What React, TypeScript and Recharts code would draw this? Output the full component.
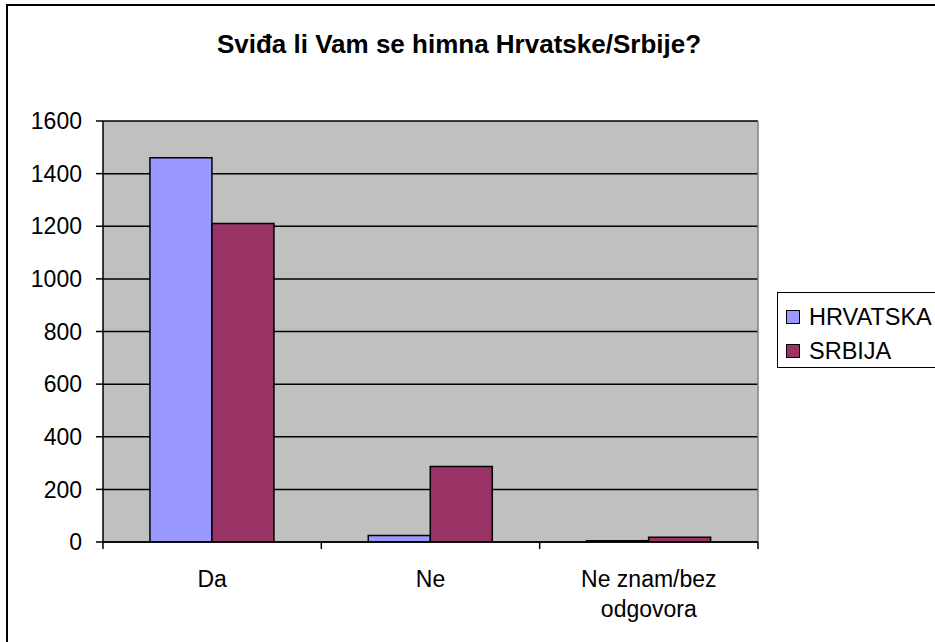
import React from 'react';
import { BarChart, Bar, XAxis, YAxis, CartesianGrid, Legend } from 'recharts';

const categories = ['Da', 'Ne', 'Ne znam/bez odgovora'];
const hrvatska = [1460, 25, 5];
const srbija = [1210, 287, 18];
const yTicks = [0, 200, 400, 600, 800, 1000, 1200, 1400, 1600];
const seriesNames = ['HRVATSKA', 'SRBIJA'];
const seriesColors = ['#9999FF', '#993366'];
const titleText = 'Sviđa li Vam se himna Hrvatske/Srbije?';

const data = categories.map((c, i) => ({ name: c, HRVATSKA: hrvatska[i], SRBIJA: srbija[i] }));

const FONT = '"Liberation Sans", Arial, sans-serif';
const CAT_TICK_MARGIN = 29;
const BOUNDARY_TICK = 7;

const CatTick = (props: any) => {
  const { x, y, payload, width, visibleTicksCount, index } = props;
  const label = String(payload.value);
  const idx = label.lastIndexOf(' ');
  const lines = label.length > 12 && idx > 0 ? [label.slice(0, idx), label.slice(idx + 1)] : [label];
  const band = Number(width) / Number(visibleTicksCount || categories.length);
  const axisY = y - CAT_TICK_MARGIN;
  const marks: number[] = [];
  if (isFinite(band)) {
    marks.push(x - band / 2);
    if (index === (visibleTicksCount || categories.length) - 1) marks.push(x + band / 2);
  }
  return (
    <g>
      {marks.map((mx, i) => (
        <line key={i} x1={mx} x2={mx} y1={axisY} y2={axisY + BOUNDARY_TICK} stroke="#000" strokeWidth={1.5} />
      ))}
      <text x={x} y={y} textAnchor="middle" fontSize={23} fill="#000" fontFamily={FONT}>
        {lines.map((l, i) => (
          <tspan key={i} x={x} dy={i === 0 ? 16 : 30}>
            {l}
          </tspan>
        ))}
      </text>
    </g>
  );
};

const renderLegend = (props: any) => {
  const { payload } = props;
  return (
    <div
      style={{
        boxSizing: 'border-box',
        width: 170,
        height: 76,
        border: '1.5px solid #000',
        background: '#fff',
        paddingTop: 9,
        paddingLeft: 8,
        fontFamily: FONT,
        fontSize: 23.5,
        color: '#000',
      }}
    >
      {(payload || []).map((p: any, i: number) => (
        <div key={i} style={{ display: 'flex', alignItems: 'center', height: 38, marginTop: -4 }}>
          <span
            style={{
              display: 'inline-block',
              boxSizing: 'border-box',
              width: 14,
              height: 14,
              background: p.color,
              border: '1.5px solid #000',
              marginRight: 9,
            }}
          />
          <span style={{ lineHeight: '23px' }}>{p.value}</span>
        </div>
      ))}
    </div>
  );
};

export default function App() {
  return (
    <div style={{ position: 'fixed', left: 0, top: 0, width: 935, height: 642, overflow: 'hidden', background: '#fff' }}>
      <div
        style={{
          position: 'absolute',
          left: 6,
          top: 4,
          width: 1000,
          height: 1000,
          border: '2px solid #000',
        }}
      />
      <div
        style={{
          position: 'absolute',
          left: 59,
          top: 31,
          width: 800,
          textAlign: 'center',
          fontFamily: FONT,
          fontWeight: 'bold',
          fontSize: 26,
          lineHeight: '26px',
          color: '#000',
        }}
      >
        {titleText}
      </div>
      <div style={{ position: 'absolute', left: 0, top: 0 }}>
        <BarChart
          width={935}
          height={642}
          data={data}
          margin={{ top: 121, right: 7, bottom: 0, left: 0 }}
          barCategoryGap="21.5%"
          barGap={0}
        >
          <CartesianGrid vertical={false} stroke="#000" strokeWidth={1.5} fill="#C0C0C0" fillOpacity={1} />
          <CartesianGrid
            horizontal={false}
            stroke="#808080"
            strokeWidth={1.5}
            verticalCoordinatesGenerator={({ offset }: any) => [offset.left + offset.width]}
          />
          <XAxis
            dataKey="name"
            type="category"
            height={100}
            tickSize={0}
            tickMargin={CAT_TICK_MARGIN}
            tickLine={false}
            axisLine={{ stroke: '#000', strokeWidth: 1.5 }}
            tick={<CatTick />}
            interval={0}
          />
          <YAxis
            domain={[0, 1600]}
            ticks={yTicks}
            width={103}
            tickSize={7}
            tickMargin={14}
            axisLine={{ stroke: '#000', strokeWidth: 1.5 }}
            tickLine={{ stroke: '#000', strokeWidth: 1.5 }}
            tick={{ fontSize: 23, fill: '#000', fontFamily: FONT }}
            allowDataOverflow
          />
          <Legend
            layout="vertical"
            align="right"
            verticalAlign="top"
            content={renderLegend}
            wrapperStyle={{ position: 'absolute', left: 777, top: 292, width: 170, height: 76, right: 'auto' }}
          />
          {seriesNames.map((s, i) => (
            <Bar
              key={s}
              dataKey={s}
              name={s}
              fill={seriesColors[i]}
              stroke="#000"
              strokeWidth={1.5}
              isAnimationActive={false}
            />
          ))}
        </BarChart>
      </div>
    </div>
  );
}
